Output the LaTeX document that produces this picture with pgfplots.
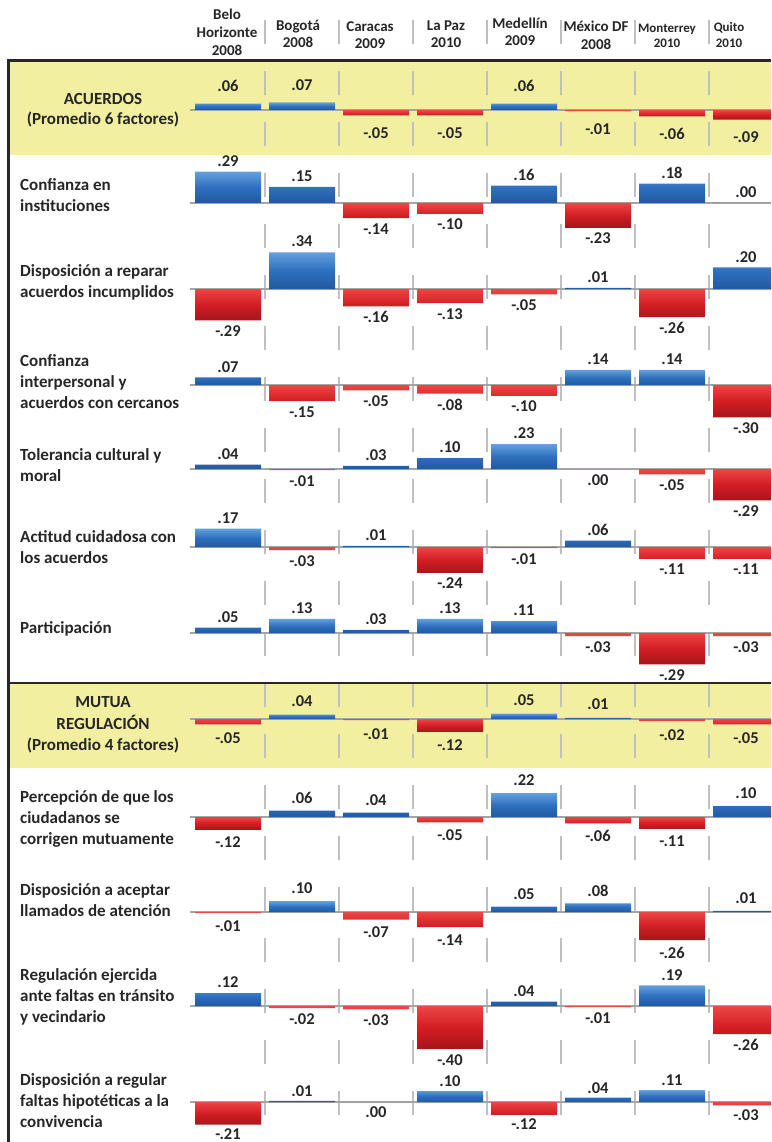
\documentclass[border=0pt]{standalone}
\usepackage{fontspec}
\setmainfont{Carlito}
\usepackage{pgfplots}
\pgfplotsset{compat=1.18}
\definecolor{yel}{RGB}{243,239,160}
\definecolor{sepg}{RGB}{192,192,192}
\definecolor{baseg}{RGB}{165,165,165}
\definecolor{bluT}{RGB}{100,160,222}
\definecolor{bluM}{RGB}{46,112,190}
\definecolor{bluB}{RGB}{34,88,160}
\definecolor{redT}{RGB}{236,70,70}
\definecolor{redM}{RGB}{210,30,36}
\definecolor{redB}{RGB}{165,22,26}
\definecolor{txt}{RGB}{38,38,38}
\definecolor{brd}{RGB}{40,40,40}
\newcommand{\lbl}{\fontsize{17}{21}\selectfont\bfseries}
\newcommand{\hdr}{\fontsize{15}{18}\selectfont\bfseries}
\newcommand{\hdrs}{\fontsize{13}{18}\selectfont\bfseries}
\newcommand{\val}{\fontsize{16.5}{18}\selectfont\bfseries}
\pgfplotsset{
 rowax/.style={
  x=74pt, y=108pt,
  xmin=-0.514, xmax=7.338, ymin=-0.7, ymax=0.7,
  enlargelimits=false,
  anchor=origin,
  axis x line=middle, axis y line=none,
  x axis line style={-, draw=baseg, line width=2pt},
  xtick=\empty, ytick=\empty,
  ybar, bar width=66pt,
  point meta=explicit symbolic,
  nodes near coords={\pgfplotspointmeta},
  every node near coord/.append style={font=\val, text=txt, inner sep=5pt},
 },
 posbar/.style={bar shift=0pt, draw=none, top color=bluT, bottom color=bluB, middle color=bluM,
   every node near coord/.append style={anchor=south}},
 negbar/.style={bar shift=0pt, draw=none, top color=redT, bottom color=redB, middle color=redM,
   every node near coord/.append style={anchor=north}},
}
\newcommand{\rowplot}[4][5pt]{%
\begin{axis}[rowax, at={(228pt,-#2pt)}, every node near coord/.append style={inner sep=#1}]
\addplot[posbar] coordinates {#3};
\addplot[negbar] coordinates {#4};
\end{axis}}
\begin{document}
\begin{tikzpicture}
% background bands
\fill[yel] (9pt,-62pt) rectangle (771pt,-155pt);
\fill[yel] (9pt,-684pt) rectangle (771pt,-768pt);
% column separators
\foreach \x in {265,339,413,487,561,635,709}
  \draw[sepg, line width=2pt, dash pattern=on 24pt off 27pt] (\x pt,-20pt) -- (\x pt,-1142pt);
% rows
\rowplot[12pt]{110}{(0,0.06)[.06] (1,0.07)[.07] (4,0.06)[.06]}{(2,-0.05)[-.05] (3,-0.05)[-.05] (5,-0.01)[-.01] (6,-0.06)[-.06] (7,-0.09)[-.09]}
\rowplot{203}{(0,0.29)[.29] (1,0.15)[.15] (4,0.16)[.16] (6,0.18)[.18] (7,0.0)[.00]}{(2,-0.14)[-.14] (3,-0.10)[-.10] (5,-0.23)[-.23]}
\rowplot{289}{(1,0.34)[.34] (5,0.01)[.01] (7,0.20)[.20]}{(0,-0.29)[-.29] (2,-0.16)[-.16] (3,-0.13)[-.13] (4,-0.05)[-.05] (6,-0.26)[-.26]}
\rowplot{385}{(0,0.07)[.07] (5,0.14)[.14] (6,0.14)[.14]}{(1,-0.15)[-.15] (2,-0.05)[-.05] (3,-0.08)[-.08] (4,-0.10)[-.10] (7,-0.30)[-.30]}
\rowplot{469}{(0,0.04)[.04] (2,0.03)[.03] (3,0.10)[.10] (4,0.23)[.23]}{(1,-0.01)[-.01] (5,-0.001)[.00] (6,-0.05)[-.05] (7,-0.29)[-.29]}
\rowplot{547}{(0,0.17)[.17] (2,0.01)[.01] (5,0.06)[.06]}{(1,-0.03)[-.03] (3,-0.24)[-.24] (4,-0.01)[-.01] (6,-0.11)[-.11] (7,-0.11)[-.11]}
\rowplot{633}{(0,0.05)[.05] (1,0.13)[.13] (2,0.03)[.03] (3,0.13)[.13] (4,0.11)[.11]}{(5,-0.03)[-.03] (6,-0.29)[-.29] (7,-0.03)[-.03]}
\rowplot[8pt]{719}{(1,0.04)[.04] (4,0.05)[.05] (5,0.01)[.01]}{(0,-0.05)[-.05] (2,-0.01)[-.01] (3,-0.12)[-.12] (6,-0.02)[-.02] (7,-0.05)[-.05]}
\rowplot[7pt]{817}{(1,0.06)[.06] (2,0.04)[.04] (4,0.22)[.22] (7,0.10)[.10]}{(0,-0.12)[-.12] (3,-0.05)[-.05] (5,-0.06)[-.06] (6,-0.11)[-.11]}
\rowplot[7pt]{912}{(1,0.10)[.10] (4,0.05)[.05] (5,0.08)[.08] (7,0.01)[.01]}{(0,-0.01)[-.01] (2,-0.07)[-.07] (3,-0.14)[-.14] (6,-0.26)[-.26]}
\rowplot{1006}{(0,0.12)[.12] (4,0.04)[.04] (6,0.19)[.19]}{(1,-0.02)[-.02] (2,-0.03)[-.03] (3,-0.40)[-.40] (5,-0.01)[-.01] (7,-0.26)[-.26]}
\rowplot[4pt]{1102}{(1,0.01)[.01] (3,0.10)[.10] (5,0.04)[.04] (6,0.11)[.11]}{(0,-0.21)[-.21] (2,-0.001)[.00] (4,-0.12)[-.12] (7,-0.03)[-.03]}
% headers
\begin{scope}[every node/.style={anchor=base, font=\hdr, text=txt, inner sep=0pt}]
\node at (227pt,-20pt) {Belo};
\node at (227pt,-38pt) {Horizonte};
\node at (227pt,-56pt) {2008};
\node at (298pt,-31pt) {Bogotá};
\node at (298pt,-48pt) {2008};
\node at (370pt,-32pt) {Caracas};
\node at (370pt,-49pt) {2009};
\node at (446pt,-31pt) {La Paz};
\node at (446pt,-48pt) {2010};
\node at (520pt,-29pt) {Medellín};
\node at (520pt,-46pt) {2009};
\node at (596pt,-32pt) {México DF};
\node at (596pt,-50pt) {2008};
\node[font=\hdrs] at (667pt,-33pt) {Monterrey};
\node[font=\hdrs] at (667pt,-48pt) {2010};
\node[font=\hdrs] at (729pt,-32pt) {Quito};
\node[font=\hdrs] at (729pt,-48pt) {2010};
\end{scope}
% row labels
\begin{scope}[every node/.style={anchor=base west, font=\lbl, text=txt, inner sep=0pt}]
\node[anchor=base] at (103pt,-105pt) {ACUERDOS};
\node[anchor=base] at (103pt,-125pt) {(Promedio 6 factores)};
\node at (20pt,-190.5pt) {Confianza en};
\node at (20pt,-211.5pt) {instituciones};
\node at (20pt,-276pt) {Disposición a reparar};
\node at (20pt,-297pt) {acuerdos incumplidos};
\node at (20pt,-366pt) {Confianza};
\node at (20pt,-387pt) {interpersonal y};
\node at (20pt,-408pt) {acuerdos con cercanos};
\node at (20pt,-460.5pt) {Tolerancia cultural y};
\node at (20pt,-481.5pt) {moral};
\node at (20pt,-542.5pt) {Actitud cuidadosa con};
\node at (20pt,-563.5pt) {los acuerdos};
\node at (20pt,-633.5pt) {Participación};
\node[anchor=base] at (103pt,-707.5pt) {MUTUA};
\node[anchor=base] at (103pt,-729pt) {REGULACIÓN};
\node[anchor=base] at (103pt,-750pt) {(Promedio 4 factores)};
\node at (20pt,-802.5pt) {Percepción de que los};
\node at (20pt,-823.5pt) {ciudadanos se};
\node at (20pt,-844.5pt) {corrigen mutuamente};
\node at (20pt,-895.5pt) {Disposición a aceptar};
\node at (20pt,-916.5pt) {llamados de atención};
\node at (20pt,-980.5pt) {Regulación ejercida};
\node at (20pt,-1001.5pt) {ante faltas en tránsito};
\node at (20pt,-1022.5pt) {y vecindario};
\node at (20pt,-1085.5pt) {Disposición a regular};
\node at (20pt,-1106.5pt) {faltas hipotéticas a la};
\node at (20pt,-1127.5pt) {convivencia};
\end{scope}
% borders
\draw[brd, line width=3pt] (8pt,-1142pt) -- (8pt,-60.5pt) -- (771pt,-60.5pt);
\draw[brd, line width=2.5pt] (8pt,-683pt) -- (771pt,-683pt);
\pgfresetboundingbox
\path[use as bounding box] (0pt,0pt) rectangle (771pt,-1142pt);
\end{tikzpicture}
\end{document}
